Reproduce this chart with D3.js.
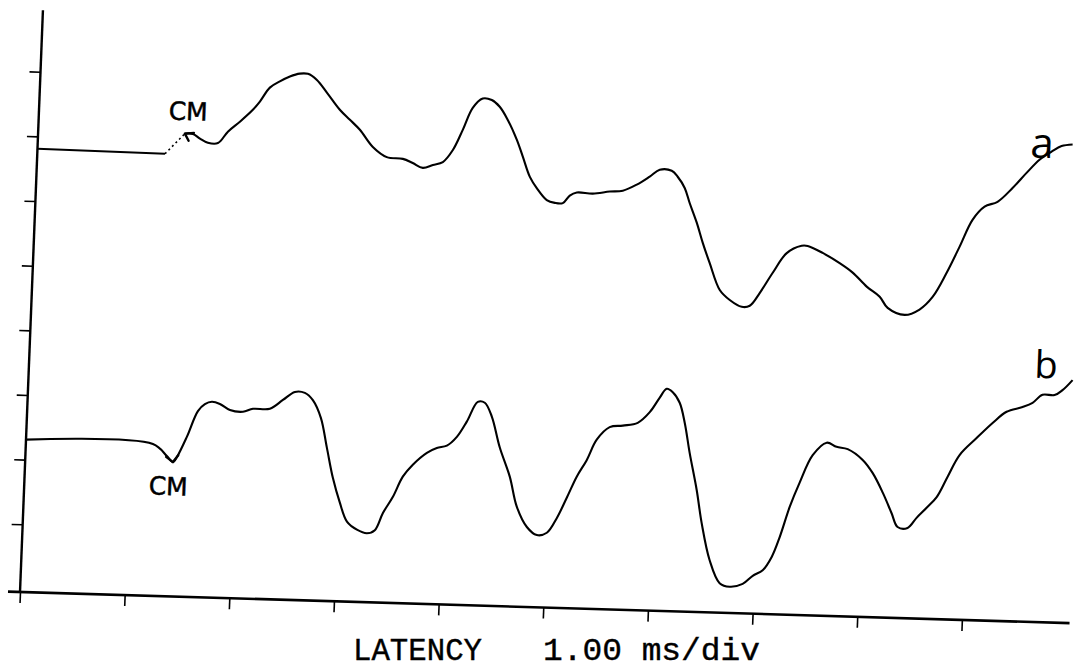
<!DOCTYPE html>
<html>
<head>
<meta charset="utf-8">
<script src="https://cdn.jsdelivr.net/npm/d3@7/dist/d3.min.js"></script>
<style>
  html, body { margin: 0; padding: 0; background: #fff; }
  svg { display: block; }
</style>
</head>
<body>
<svg id="chart" width="1075" height="670"></svg>
<script>
// ---- data (time in ms, amplitude in vertical divisions) ----
const xTicks = [0, 1, 2, 3, 4, 5, 6, 7, 8, 9];
const yTicks = [1, 2, 3, 4, 5, 6, 7, 8];

const traceNames = ["a", "b"];
const axisTitle = "LATENCY";
const axisScaleText = "1.00 ms/div";
const markerText = "CM";

// trace a
const timeA = [
  0, 1.219, 1.401, 1.478, 1.547, 1.624, 1.720, 1.811, 1.922, 2.041,
  2.105, 2.195, 2.288, 2.382, 2.476, 2.553, 2.641, 2.741, 2.871, 2.971,
  3.070, 3.200, 3.337, 3.491, 3.587, 3.685, 3.780, 3.874, 3.965, 4.053,
  4.139, 4.231, 4.318, 4.396, 4.478, 4.571, 4.635, 4.710, 4.780, 4.880,
  4.958, 5.034, 5.098, 5.164, 5.317, 5.478, 5.602, 5.733, 5.854, 5.947,
  6.062, 6.121, 6.192, 6.245, 6.320, 6.385, 6.459, 6.565, 6.664, 6.781,
  6.857, 6.947, 7.064, 7.190, 7.330, 7.388, 7.533, 7.699, 7.827, 7.966,
  8.094, 8.174, 8.339, 8.479, 8.599, 8.724, 8.838, 8.951, 9.061, 9.183,
  9.321, 9.449, 9.568, 9.680, 9.773, 9.878
];
const ampA = [
  6.81, 6.79, 7.11, 7.11, 7.04, 6.98, 6.98, 7.16, 7.32, 7.51,
  7.64, 7.86, 7.96, 8.04, 8.09, 8.09, 8.00, 7.81, 7.55, 7.40,
  7.25, 6.99, 6.84, 6.82, 6.76, 6.69, 6.74, 6.79, 6.98, 7.30,
  7.64, 7.79, 7.77, 7.67, 7.47, 7.17, 6.91, 6.60, 6.43, 6.25,
  6.21, 6.21, 6.33, 6.38, 6.37, 6.41, 6.43, 6.53, 6.66, 6.77,
  6.76, 6.67, 6.50, 6.27, 5.97, 5.66, 5.35, 4.94, 4.79, 4.69,
  4.71, 4.91, 5.23, 5.54, 5.66, 5.66, 5.56, 5.41, 5.27, 5.06,
  4.91, 4.74, 4.64, 4.73, 4.93, 5.31, 5.72, 6.14, 6.35, 6.43,
  6.65, 6.89, 7.10, 7.23, 7.32, 7.35
];
const onsetA = 1.219;   // end of flat baseline
const cmA = 1.401;      // cochlear microphonic marker time

// trace b
const timeB = [
  0, 1.213, 1.351, 1.411, 1.447, 1.535, 1.630, 1.694, 1.760, 1.837,
  1.935, 2.060, 2.154, 2.316, 2.437, 2.548, 2.644, 2.723, 2.806, 2.875,
  2.943, 3.019, 3.094, 3.192, 3.288, 3.363, 3.434, 3.522, 3.610, 3.701,
  3.831, 3.924, 4.019, 4.111, 4.200, 4.298, 4.365, 4.437, 4.524, 4.631,
  4.709, 4.813, 4.911, 5.006, 5.095, 5.183, 5.270, 5.359, 5.447, 5.566,
  5.691, 5.832, 5.943, 6.033, 6.096, 6.155, 6.225, 6.281, 6.339, 6.420,
  6.480, 6.570, 6.674, 6.772, 6.894, 6.987, 7.080, 7.161, 7.230, 7.314,
  7.400, 7.514, 7.643, 7.739, 7.846, 7.993, 8.094, 8.198, 8.289, 8.351,
  8.447, 8.529, 8.621, 8.713, 8.810, 8.916, 9.072, 9.219, 9.348, 9.499,
  9.593, 9.685, 9.800, 9.874, 9.966
];
const ampB = [
  2.31, 2.30, 2.12, 2.03, 2.11, 2.43, 2.83, 2.94, 2.98, 2.95,
  2.86, 2.84, 2.89, 2.90, 3.04, 3.17, 3.16, 3.05, 2.78, 2.32,
  1.86, 1.48, 1.19, 1.07, 1.02, 1.07, 1.34, 1.59, 1.91, 2.10,
  2.29, 2.37, 2.41, 2.55, 2.79, 3.10, 3.09, 2.88, 2.41, 1.96,
  1.50, 1.19, 1.07, 1.11, 1.34, 1.66, 1.99, 2.25, 2.57, 2.77,
  2.80, 2.85, 3.02, 3.25, 3.39, 3.34, 3.18, 2.87, 2.41, 1.84,
  1.33, 0.76, 0.41, 0.36, 0.41, 0.54, 0.63, 0.84, 1.15, 1.62,
  2.00, 2.43, 2.63, 2.57, 2.54, 2.38, 2.18, 1.88, 1.57, 1.36,
  1.35, 1.51, 1.67, 1.84, 2.16, 2.50, 2.77, 3.01, 3.19, 3.27,
  3.34, 3.47, 3.47, 3.55, 3.71
];
const cmB = 1.411;

// label anchor positions (data units)
const labelA = { t: 9.587, v: 7.13 };
const labelB = { t: 9.708, v: 3.73 };
const cmLabelA = { t: 1.425, v: 7.32 };
const cmLabelB = { t: 1.375, v: 1.52 };

// ---- drawing ----
const svg = d3.select("#chart");
svg.append("rect").attr("width", 1075).attr("height", 670).attr("fill", "#fff");

// the recorded plot is slightly skewed/rotated on the page
const g = svg.append("g")
  .attr("transform", "matrix(0.99956,0.0297,-0.0394,0.99922,22,592)");

const x = d3.scaleLinear().domain([0, 10]).range([-2, 1045]);
const y = d3.scaleLinear().domain([0, 9]).range([-3, -585.3]);

// x axis
const xAxis = g.append("g")
  .call(d3.axisBottom(x).tickValues(xTicks).tickSize(11).tickSizeOuter(0).tickFormat(""));
xAxis.select(".domain").remove();
xAxis.selectAll(".tick line").attr("stroke", "#000").attr("stroke-width", 1.6);
g.append("line")
  .attr("x1", x(0) - 12).attr("x2", x(10) + 3)
  .attr("y1", 0).attr("y2", 0)
  .attr("stroke", "#000").attr("stroke-width", 2.6);

// y axis
const yAxis = g.append("g").attr("transform", `translate(${x(0)},0)`)
  .call(d3.axisLeft(y).tickValues(yTicks).tickSize(11).tickSizeOuter(0).tickFormat(""));
yAxis.select(".domain").remove();
yAxis.selectAll(".tick line").attr("stroke", "#000").attr("stroke-width", 1.6);
g.append("line")
  .attr("x1", x(0)).attr("x2", x(0))
  .attr("y1", 0).attr("y2", y(8.95))
  .attr("stroke", "#000").attr("stroke-width", 2.4);

const line = d3.line()
  .x(d => x(d.t)).y(d => y(d.v))
  .curve(d3.curveCatmullRom.alpha(0.5));

const ptsA = timeA.map((t, i) => ({ t, v: ampA[i] }));
const ptsB = timeB.map((t, i) => ({ t, v: ampB[i] }));

// trace a: baseline, dotted onset segment, response
g.append("path").datum(ptsA.filter(d => d.t <= onsetA))
  .attr("d", line).attr("fill", "none").attr("stroke", "#000").attr("stroke-width", 2.1);
g.append("path").datum(ptsA.filter(d => d.t >= onsetA && d.t <= cmA))
  .attr("d", d3.line().x(d => x(d.t)).y(d => y(d.v)))
  .attr("fill", "none").attr("stroke", "#000").attr("stroke-width", 1.6)
  .attr("stroke-dasharray", "2,3");
g.append("path").datum(ptsA.filter(d => d.t >= cmA))
  .attr("d", line).attr("fill", "none").attr("stroke", "#000").attr("stroke-width", 2.1)
  .attr("stroke-linejoin", "round");

// trace b
g.append("path").datum(ptsB)
  .attr("d", line).attr("fill", "none").attr("stroke", "#000").attr("stroke-width", 2.1)
  .attr("stroke-linejoin", "round");

// CM arrowheads
function arrowHead(t, v, arms) {
  const px = x(t), py = y(v);
  const p = d3.path();
  arms.forEach(([dx, dy]) => { p.moveTo(px + dx, py + dy); p.lineTo(px, py); });
  g.append("path").attr("d", p.toString())
    .attr("fill", "none").attr("stroke", "#000").attr("stroke-width", 2.4)
    .attr("stroke-linecap", "round");
}
const ampAtCmA = ampA[timeA.indexOf(cmA)];
const ampAtCmB = ampB[timeB.indexOf(cmB)];
arrowHead(cmA, ampAtCmA, [[9, -1], [4, 7]]);
arrowHead(cmB, ampAtCmB, [[-7, -5], [5, -7]]);

// labels
[cmLabelA, cmLabelB].forEach(p => {
  g.append("text").attr("x", x(p.t)).attr("y", y(p.v))
    .attr("text-anchor", "middle")
    .attr("font-family", "DejaVu Sans, sans-serif").attr("font-size", 25)
    .attr("stroke", "#000").attr("stroke-width", 0.5)
    .text(markerText);
});

g.append("text").attr("x", x(labelA.t)).attr("y", y(labelA.v))
  .attr("text-anchor", "middle")
  .attr("font-family", "Open Sans, DejaVu Sans, sans-serif").attr("font-weight", 400)
  .attr("font-size", 42)
  .text(traceNames[0]);
g.append("text").attr("x", x(labelB.t)).attr("y", y(labelB.v))
  .attr("text-anchor", "middle")
  .attr("font-family", "Open Sans, DejaVu Sans, sans-serif").attr("font-weight", 400)
  .attr("font-size", 38)
  .text(traceNames[1]);

// axis caption (printed horizontally, typewriter style)
svg.append("text").attr("x", 353).attr("y", 660)
  .attr("font-family", "Liberation Mono, DejaVu Sans Mono, monospace")
  .attr("font-size", 32).attr("stroke", "#000").attr("stroke-width", 0.4)
  .attr("textLength", 129).attr("lengthAdjust", "spacingAndGlyphs")
  .text(axisTitle);
svg.append("text").attr("x", 543).attr("y", 660)
  .attr("font-family", "Liberation Mono, DejaVu Sans Mono, monospace")
  .attr("font-size", 32).attr("stroke", "#000").attr("stroke-width", 0.4)
  .attr("textLength", 217).attr("lengthAdjust", "spacingAndGlyphs")
  .text(axisScaleText);
</script>
</body>
</html>
